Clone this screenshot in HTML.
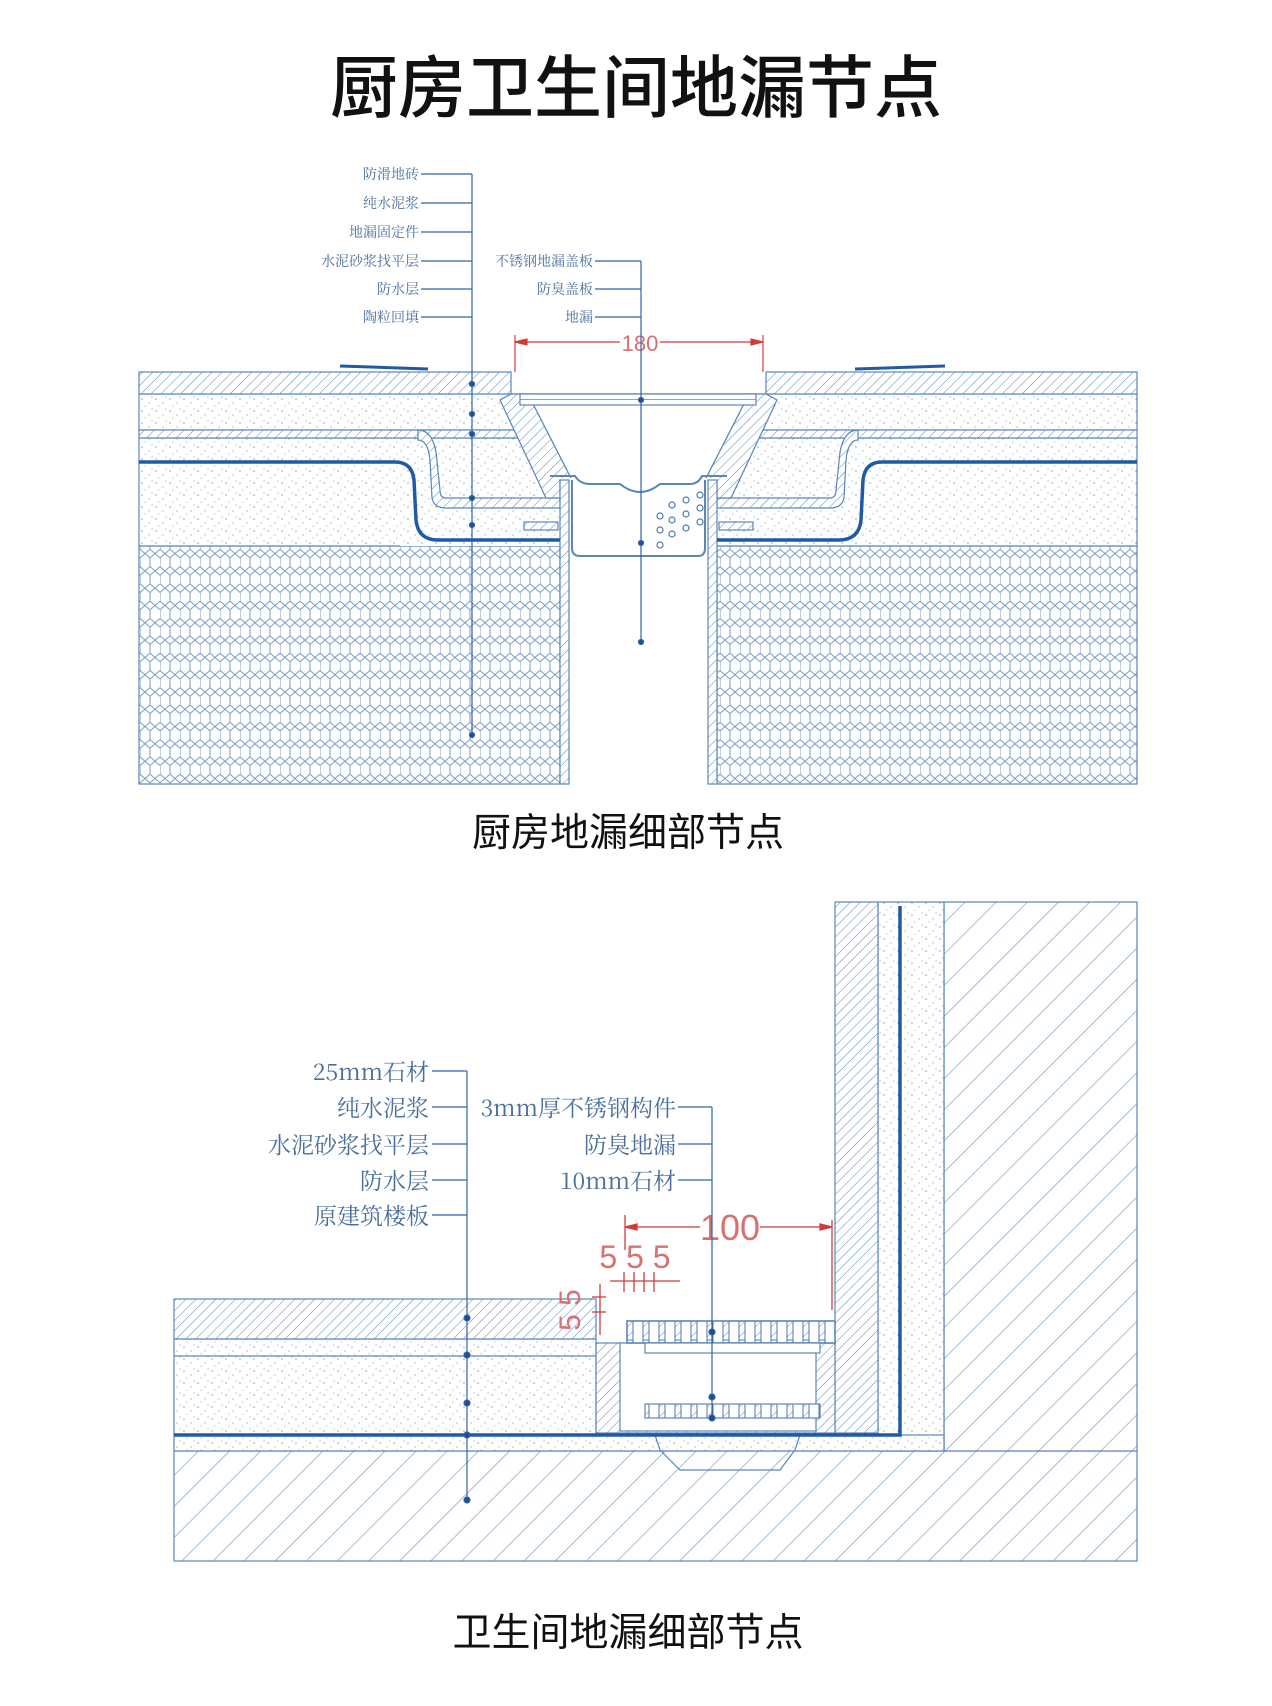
<!DOCTYPE html>
<html><head><meta charset="utf-8"><style>
html,body{margin:0;padding:0;background:#fff}
body{width:1272px;height:1706px;overflow:hidden;position:relative;font-family:"Liberation Sans","Noto Sans CJK SC",sans-serif}
svg{position:absolute;left:0;top:0}
</style></head><body>
<svg width="1272" height="1706" viewBox="0 0 1272 1706" xmlns="http://www.w3.org/2000/svg">
<defs>
<pattern id="hatch" width="7" height="7" patternUnits="userSpaceOnUse" patternTransform="rotate(45)">
<rect width="7" height="7" fill="#fff"/><line x1="0" y1="0" x2="0" y2="7" stroke="#5b87b8" stroke-width="1"/></pattern>
<pattern id="bighatch" width="22" height="22" patternUnits="userSpaceOnUse" patternTransform="rotate(45)">
<rect width="22" height="22" fill="#fff"/><line x1="0" y1="0" x2="0" y2="22" stroke="#6d93c0" stroke-width="1.2"/></pattern>
<pattern id="dots" width="14" height="12" patternUnits="userSpaceOnUse">
<rect width="14" height="12" fill="#fff"/><circle cx="2" cy="3" r="0.8" fill="#8aa6c6"/><circle cx="9" cy="7" r="0.7" fill="#9db5d0"/><circle cx="5" cy="10" r="0.6" fill="#9db5d0"/><circle cx="12" cy="1" r="0.6" fill="#8aa6c6"/></pattern>
<pattern id="hex" width="20" height="17.3" patternUnits="userSpaceOnUse">
<rect width="20" height="17.3" fill="#fff"/>
<path d="M0 4.3 L5 0 L10 4.3 L10 13 L5 17.3 L0 13 Z M10 4.3 L15 0 L20 4.3 M10 13 L15 17.3 L20 13" fill="none" stroke="#7b9cc4" stroke-width="1"/></pattern>
<pattern id="grate" width="16" height="20" patternUnits="userSpaceOnUse">
<rect width="16" height="20" fill="#fff"/><rect x="3" y="0" width="6" height="20" fill="url(#hatch)" stroke="#4a7ab0" stroke-width="1"/></pattern>
</defs>

<text x="636" y="112" text-anchor="middle" font-size="68" font-family="'Noto Sans CJK SC',sans-serif" font-weight="500" fill="#111">厨房卫生间地漏节点</text>

<g stroke="#5a86b8" stroke-width="1.2">
<rect x="139" y="546" width="421" height="238" fill="url(#hex)"/>
<rect x="717" y="546" width="420" height="238" fill="url(#hex)"/>
<rect x="139" y="438" width="998" height="108" fill="url(#dots)"/>
<rect x="139" y="394" width="998" height="36" fill="url(#dots)"/>
<rect x="139" y="430" width="998" height="8" fill="url(#hatch)"/>
<rect x="139" y="372" width="372" height="22" fill="url(#hatch)"/>
<rect x="766" y="372" width="371" height="22" fill="url(#hatch)"/>
<path d="M418 438 Q425 438 428 450 L434 492 Q436 502 446 502 L560 502 L560 546 L400 546 Z" fill="url(#dots)" stroke="none"/>
<path d="M418 440 Q428 440 430 460 L432 498 Q434 508 446 508 L560 508 L560 498 L446 498 Q440 498 440 490 L436 452 Q432 430 418 430 Z" fill="url(#hatch)"/>
<path d="M858 440 Q848 440 846 460 L844 498 Q842 508 830 508 L717 508 L717 498 L830 498 Q836 498 836 490 L840 452 Q844 430 858 430 Z" fill="url(#hatch)"/>
<path d="M511 394 L528 394 L572 480 L560 480 L560 498 L546 498 L500 400 Z" fill="url(#hatch)"/>
<path d="M766 394 L749 394 L705 480 L717 480 L717 498 L731 498 L777 400 Z" fill="url(#hatch)"/>
<path d="M528 394 L749 394 L705 480 L572 480 Z" fill="#fff"/>
<rect x="520" y="394" width="236" height="11" fill="#fff"/>
<path d="M520 399.5 H756" stroke-width="0.8"/>
<rect x="560" y="478" width="157" height="306" fill="#fff" stroke="none"/>
<rect x="560" y="480" width="9" height="304" fill="url(#hatch)"/>
<rect x="708" y="480" width="9" height="304" fill="url(#hatch)"/>
<path d="M550 476 L575 476 Q580 484 590 484 L620 484 Q640 500 660 484 L690 484 Q698 484 702 476 L727 476" fill="none" stroke-width="2"/>
<path d="M572 480 L572 548 Q572 556 580 556 L698 556 Q705 556 705 548 L705 480" fill="none" stroke-width="2"/>
<rect x="524" y="522" width="34" height="8" fill="url(#hatch)"/>
<rect x="719" y="522" width="34" height="8" fill="url(#hatch)"/>
</g>
<path d="M139 462 L395 462 Q412 462 414 480 L416 520 Q418 540 438 540 L560 540" fill="none" stroke="#1f5aa6" stroke-width="3.5"/>
<path d="M1137 462 L882 462 Q865 462 863 480 L861 520 Q859 540 839 540 L717 540" fill="none" stroke="#1f5aa6" stroke-width="3.5"/>
<g fill="none" stroke="#4a7ab0" stroke-width="1.2">
<circle cx="672" cy="505" r="3"/><circle cx="686" cy="500" r="3"/><circle cx="700" cy="495" r="3"/><circle cx="672" cy="520" r="3"/><circle cx="686" cy="514" r="3"/><circle cx="700" cy="508" r="3"/><circle cx="660" cy="530" r="3"/><circle cx="672" cy="534" r="3"/><circle cx="686" cy="528" r="3"/><circle cx="700" cy="522" r="3"/><circle cx="660" cy="545" r="3"/><circle cx="660" cy="516" r="3"/>
</g>
<path d="M340 366 L428 369" stroke="#1f5aa6" stroke-width="3"/><path d="M855 369 L945 366" stroke="#1f5aa6" stroke-width="3"/>
<g stroke="#d23a3a" stroke-width="1.2" fill="#d23a3a">
<line x1="515" y1="335" x2="515" y2="372"/><line x1="763" y1="335" x2="763" y2="372"/>
<line x1="515" y1="342" x2="620" y2="342"/><line x1="660" y1="342" x2="763" y2="342"/>
<path d="M515 342 L527 339 L527 345Z"/><path d="M763 342 L751 339 L751 345Z"/>
</g>
<text x="640" y="351" text-anchor="middle" font-size="22" fill="#d87070" font-family="'Liberation Sans',sans-serif">180</text>
<g stroke="#2f64a8" stroke-width="1.2" fill="#1f4f8f">
<line x1="472" y1="174" x2="472" y2="735"/>
<line x1="421" y1="174" x2="472" y2="174"/><line x1="421" y1="203" x2="472" y2="203"/><line x1="421" y1="232" x2="472" y2="232"/><line x1="421" y1="261" x2="472" y2="261"/><line x1="421" y1="289" x2="472" y2="289"/><line x1="421" y1="317" x2="472" y2="317"/>
<circle cx="472" cy="384" r="2.5"/><circle cx="472" cy="414" r="2.5"/><circle cx="472" cy="434" r="2.5"/><circle cx="472" cy="498" r="2.5"/><circle cx="472" cy="525" r="2.5"/><circle cx="472" cy="735" r="2.5"/>
<line x1="641" y1="261" x2="641" y2="642"/>
<line x1="595" y1="261" x2="641" y2="261"/><line x1="595" y1="289" x2="641" y2="289"/><line x1="595" y1="317" x2="641" y2="317"/>
<circle cx="641" cy="400" r="2.5"/><circle cx="641" cy="543" r="2.5"/><circle cx="641" cy="642" r="2.5"/>
</g>
<g font-size="14" fill="#4a6f9c" text-anchor="end" font-family="'Noto Serif CJK SC',serif">
<text x="419" y="179">防滑地砖</text><text x="419" y="208">纯水泥浆</text><text x="419" y="237">地漏固定件</text><text x="419" y="266">水泥砂浆找平层</text><text x="419" y="294">防水层</text><text x="419" y="322">陶粒回填</text>
<text x="593" y="266">不锈钢地漏盖板</text><text x="593" y="294">防臭盖板</text><text x="593" y="322">地漏</text>
</g>
<text x="628" y="846" text-anchor="middle" font-size="39" fill="#111" font-family="'Noto Sans CJK SC',sans-serif">厨房地漏细部节点</text>

<g stroke="#5a86b8" stroke-width="1.2">
<rect x="174" y="1451" width="963" height="110" fill="url(#bighatch)"/>
<rect x="944" y="902" width="193" height="549" fill="url(#bighatch)"/>
<rect x="878" y="902" width="66" height="549" fill="url(#dots)"/>
<rect x="835" y="902" width="43" height="531" fill="url(#hatch)"/>
<rect x="174" y="1339" width="422" height="96" fill="url(#dots)"/>
<line x1="174" y1="1356" x2="596" y2="1356"/>
<rect x="174" y="1299" width="422" height="40" fill="url(#hatch)"/>
<rect x="174" y="1435" width="770" height="16" fill="url(#dots)"/>
<rect x="596" y="1343" width="239" height="90" fill="url(#hatch)"/>
<rect x="620" y="1343" width="196" height="88" fill="#fff"/>
<rect x="627" y="1321" width="208" height="22" fill="url(#grate)"/>
<rect x="627" y="1321" width="208" height="22" fill="none" stroke-width="1.5"/>
<rect x="645" y="1343" width="175" height="10" fill="#fff"/>
<rect x="645" y="1404" width="175" height="14" fill="url(#grate)"/>
<path d="M655 1435 L660 1450 L680 1470 L780 1470 L795 1450 L800 1435" fill="none"/>
</g>
<path d="M174 1435 L900 1435 L900 906" fill="none" stroke="#1f5aa6" stroke-width="3.5"/>
<g stroke="#d23a3a" stroke-width="1.3" fill="#d23a3a">
<line x1="832" y1="1220" x2="832" y2="1310"/><line x1="625" y1="1215" x2="625" y2="1250"/>
<line x1="625" y1="1227" x2="700" y2="1227"/><line x1="760" y1="1227" x2="832" y2="1227"/>
<path d="M625 1227 L637 1224 L637 1230Z"/><path d="M832 1227 L820 1224 L820 1230Z"/>
<line x1="610" y1="1281" x2="680" y2="1281"/>
<line x1="624" y1="1272" x2="624" y2="1292"/><line x1="634" y1="1272" x2="634" y2="1292"/><line x1="644" y1="1272" x2="644" y2="1292"/><line x1="654" y1="1272" x2="654" y2="1292"/>
<line x1="600" y1="1284" x2="600" y2="1335"/><line x1="592" y1="1297" x2="606" y2="1297"/><line x1="592" y1="1312" x2="606" y2="1312"/>
</g>
<text x="730" y="1240" text-anchor="middle" font-size="36" fill="#d87070" font-family="'Liberation Sans',sans-serif">100</text>
<text x="635" y="1268" text-anchor="middle" font-size="32" fill="#d87070" font-family="'Liberation Sans',sans-serif">5 5 5</text>
<text x="580" y="1310" text-anchor="middle" font-size="30" fill="#d87070" font-family="'Liberation Sans',sans-serif" transform="rotate(-90 580 1310)">5 5</text>
<g stroke="#2f64a8" stroke-width="1.2" fill="#1f4f8f">
<line x1="467" y1="1071" x2="467" y2="1500"/>
<line x1="432" y1="1071" x2="467" y2="1071"/><line x1="432" y1="1107" x2="467" y2="1107"/><line x1="432" y1="1144" x2="467" y2="1144"/><line x1="432" y1="1180" x2="467" y2="1180"/><line x1="432" y1="1215" x2="467" y2="1215"/>
<circle cx="467" cy="1318" r="3"/><circle cx="467" cy="1355" r="3"/><circle cx="467" cy="1403" r="3"/><circle cx="467" cy="1435" r="3"/><circle cx="467" cy="1500" r="3"/>
<line x1="712" y1="1107" x2="712" y2="1420"/>
<line x1="678" y1="1107" x2="712" y2="1107"/><line x1="678" y1="1144" x2="712" y2="1144"/><line x1="678" y1="1180" x2="712" y2="1180"/>
<circle cx="712" cy="1332" r="3"/><circle cx="712" cy="1397" r="3"/><circle cx="712" cy="1418" r="3"/>
</g>
<g font-size="23" fill="#4a6f9c" text-anchor="end" font-family="'Noto Serif CJK SC',serif">
<text x="429" y="1080">25mm石材</text><text x="429" y="1116">纯水泥浆</text><text x="429" y="1153">水泥砂浆找平层</text><text x="429" y="1189">防水层</text><text x="429" y="1224">原建筑楼板</text>
<text x="676" y="1116">3mm厚不锈钢构件</text><text x="676" y="1153">防臭地漏</text><text x="676" y="1189">10mm石材</text>
</g>
<text x="628" y="1646" text-anchor="middle" font-size="39" fill="#111" font-family="'Noto Sans CJK SC',sans-serif">卫生间地漏细部节点</text>
</svg>
</body></html>
